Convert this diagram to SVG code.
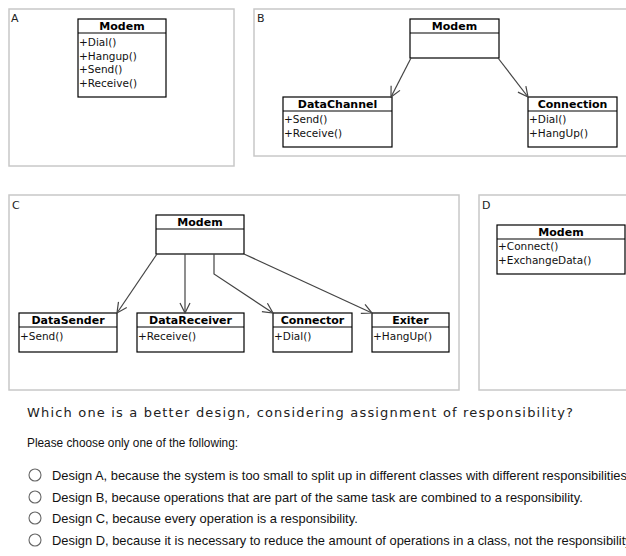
<svg xmlns="http://www.w3.org/2000/svg" width="626" height="556" viewBox="0 0 626 556">
<defs>
<style>
.frame{fill:#fff;stroke:#c8c8c8;stroke-width:1.5}
.box{fill:#fff;stroke:#000;stroke-width:1.2}
.sep{stroke:#000;stroke-width:1.2}
.title{font-family:"DejaVu Sans",sans-serif;font-size:11px;font-weight:bold;text-anchor:middle;fill:#000}
.op{font-family:"DejaVu Sans",sans-serif;font-size:10.5px;fill:#111}
.lbl{font-family:"DejaVu Sans",sans-serif;font-size:11px;fill:#222}
.edge{fill:none;stroke:#444;stroke-width:1.2}
.q{font-family:"DejaVu Sans",sans-serif;font-size:13px;fill:#222}
.p{font-family:"Liberation Sans",Arial,sans-serif;font-size:12px;fill:#111}
.opt{font-family:"Liberation Sans",Arial,sans-serif;font-size:12.9px;fill:#111}
.radio{fill:#fff;stroke:#666;stroke-width:1.1}
</style>
<marker id="open" viewBox="0 0 12 12" refX="11" refY="6" markerWidth="12" markerHeight="12" markerUnits="userSpaceOnUse" orient="auto">
<path d="M1,1 L11,6 L1,11" fill="none" stroke="#444" stroke-width="1.2"/>
</marker>
</defs>
<rect width="626" height="556" fill="#fff"/>

<!-- Panel frames -->
<g id="frames">
<rect class="frame" x="9" y="9" width="225" height="157"/>
<rect class="frame" x="254" y="9" width="380" height="147"/>
<rect class="frame" x="9" y="195" width="450" height="195"/>
<rect class="frame" x="479" y="195" width="160" height="195"/>
<text class="lbl" x="11" y="22">A</text>
<text class="lbl" x="257" y="22">B</text>
<text class="lbl" x="12" y="209">C</text>
<text class="lbl" x="482" y="209">D</text>
</g>

<!-- Panel A -->
<g id="A-Modem">
<rect class="box" x="78" y="19" width="88" height="78"/>
<line class="sep" x1="78" y1="33" x2="166" y2="33"/>
<text class="title" x="122" y="30">Modem</text>
<text class="op" x="79" y="46">+Dial()</text>
<text class="op" x="79" y="59.5">+Hangup()</text>
<text class="op" x="79" y="73">+Send()</text>
<text class="op" x="79" y="86.5">+Receive()</text>
</g>

<!-- Panel B -->
<g id="B-Modem">
<rect class="box" x="410" y="19" width="89" height="39"/>
<line class="sep" x1="410" y1="33" x2="499" y2="33"/>
<text class="title" x="454.5" y="30">Modem</text>
</g>
<g id="B-DataChannel">
<rect class="box" x="283" y="97" width="109" height="50"/>
<line class="sep" x1="283" y1="111" x2="392" y2="111"/>
<text class="title" x="337.5" y="108">DataChannel</text>
<text class="op" x="284" y="123">+Send()</text>
<text class="op" x="284" y="137">+Receive()</text>
</g>
<g id="B-Connection">
<rect class="box" x="528" y="97" width="89" height="50"/>
<line class="sep" x1="528" y1="111" x2="617" y2="111"/>
<text class="title" x="572.5" y="108">Connection</text>
<text class="op" x="529" y="123">+Dial()</text>
<text class="op" x="529" y="137">+HangUp()</text>
</g>

<!-- Panel C -->
<g id="C-Modem">
<rect class="box" x="156" y="215" width="88" height="39"/>
<line class="sep" x1="156" y1="229" x2="244" y2="229"/>
<text class="title" x="200" y="226">Modem</text>
</g>
<g id="C-DataSender">
<rect class="box" x="19" y="313" width="98" height="39"/>
<line class="sep" x1="19" y1="327" x2="117" y2="327"/>
<text class="title" x="68" y="324">DataSender</text>
<text class="op" x="20" y="340">+Send()</text>
</g>
<g id="C-DataReceiver">
<rect class="box" x="137" y="313" width="107" height="39"/>
<line class="sep" x1="137" y1="327" x2="244" y2="327"/>
<text class="title" x="190.5" y="324">DataReceiver</text>
<text class="op" x="138" y="340">+Receive()</text>
</g>
<g id="C-Connector">
<rect class="box" x="273" y="313" width="79" height="39"/>
<line class="sep" x1="273" y1="327" x2="352" y2="327"/>
<text class="title" x="312.5" y="324">Connector</text>
<text class="op" x="274" y="340">+Dial()</text>
</g>
<g id="C-Exiter">
<rect class="box" x="372" y="313" width="77" height="39"/>
<line class="sep" x1="372" y1="327" x2="449" y2="327"/>
<text class="title" x="410.5" y="324">Exiter</text>
<text class="op" x="373" y="340">+HangUp()</text>
</g>

<!-- Panel D -->
<g id="D-Modem">
<rect class="box" x="497" y="225" width="128" height="49"/>
<line class="sep" x1="497" y1="239" x2="625" y2="239"/>
<text class="title" x="561" y="236">Modem</text>
<text class="op" x="498" y="250">+Connect()</text>
<text class="op" x="498" y="264">+ExchangeData()</text>
</g>

<!-- Connectors -->
<g id="connectors">
<path class="edge" d="M411,58 L391,97" marker-end="url(#open)"/>
<path class="edge" d="M498,58 L528,97" marker-end="url(#open)"/>
<path class="edge" d="M157,254 L117,313" marker-end="url(#open)"/>
<path class="edge" d="M185,254 L185,313" marker-end="url(#open)"/>
<path class="edge" d="M214,254 L214,274 L273,313" marker-end="url(#open)"/>
<path class="edge" d="M244,254 L372,313" marker-end="url(#open)"/>
</g>

<!-- Question -->
<g id="question">
<text class="q" x="27" y="417" textLength="546" lengthAdjust="spacing">Which one is a better design, considering assignment of responsibility?</text>
<text class="p" x="27" y="447" textLength="211" lengthAdjust="spacingAndGlyphs">Please choose only one of the following:</text>
<circle class="radio" cx="35" cy="475" r="6"/>
<circle class="radio" cx="35" cy="497" r="6"/>
<circle class="radio" cx="35" cy="518" r="6"/>
<circle class="radio" cx="35" cy="540" r="6"/>
<text class="opt" x="52" y="479.5">Design A, because the system is too small to split up in different classes with different responsibilities.</text>
<text class="opt" x="52" y="501.5">Design B, because operations that are part of the same task are combined to a responsibility.</text>
<text class="opt" x="52" y="522.5">Design C, because every operation is a responsibility.</text>
<text class="opt" x="52" y="544.5">Design D, because it is necessary to reduce the amount of operations in a class, not the responsibility.</text>
</g>
</svg>
